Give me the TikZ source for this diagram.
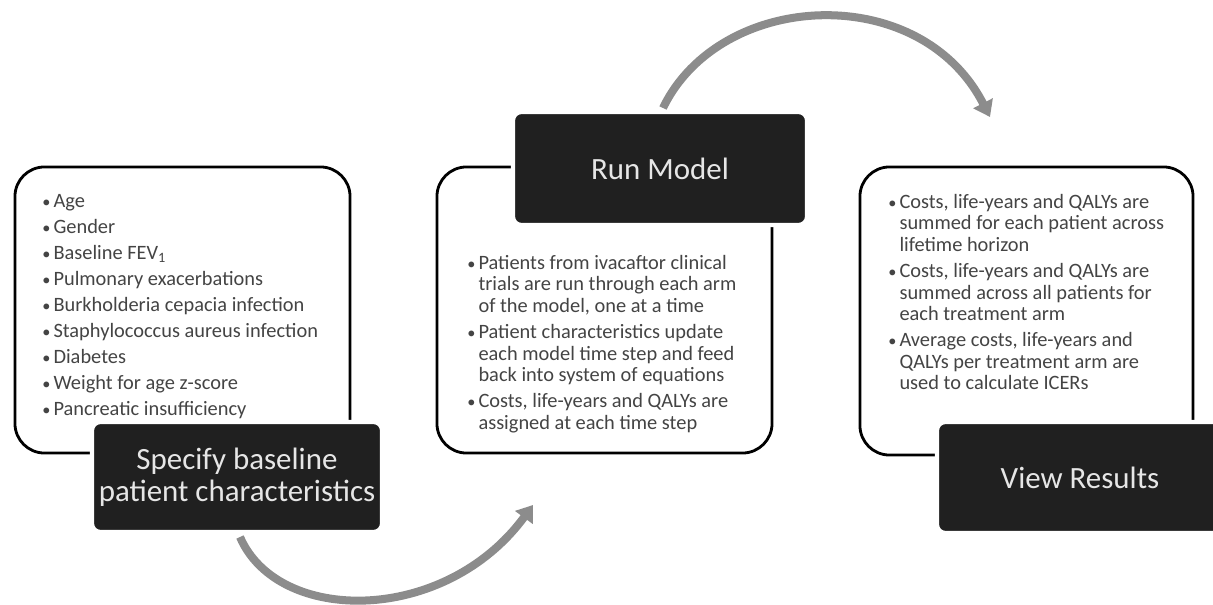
\documentclass[tikz,border=0pt]{standalone}
\usepackage{fontspec}
\setmainfont{Carlito}
\usetikzlibrary{arrows.meta}
\definecolor{boxdark}{HTML}{202020}
\definecolor{boxtext}{HTML}{E6E6E6}
\definecolor{bodytext}{HTML}{444444}
\definecolor{arrowgray}{HTML}{8C8C8C}
\newcommand\bul{\makebox[8pt][l]{\scalebox{0.8}{\textbullet}}}
\newcommand\ind{\hspace*{8pt}}
\tikzset{
  panel/.style={draw=black, fill=white, line width=2pt, rounded corners=21pt,
    inner sep=0pt, outer sep=0pt},
  headbox/.style={draw=white, line width=3pt, fill=boxdark, rounded corners=6pt,
    text=boxtext, align=center, inner sep=0pt, outer sep=0pt,
    font=\fontsize{22}{22.8}\selectfont},
  bodylist/.style={anchor=north west, align=left, inner sep=0pt, text=bodytext,
    font=\fontsize{14.5}{15.3}\selectfont},
  flowarrow/.style={draw=arrowgray, line width=5.7pt,
    -{Triangle[width=15pt,length=11pt]}}
}
\begin{document}
\begin{tikzpicture}[x=0.025cm, y=-0.025cm]
  \useasboundingbox (0,0) rectangle (1213,605);
  \fill[white] (0,0) rectangle (1213,605);
  \clip (0,0) rectangle (1213,605);

  % connecting arrows between the stages
  \coordinate (a1s) at (240,537);
  \coordinate (a1e) at (533,505);
  \coordinate (a2s) at (663,108);
  \coordinate (a2e) at (990,117);
  \draw[flowarrow] (a1s) .. controls (278,625) and (445,625) .. (a1e);
  \draw[flowarrow] (a2s) .. controls (720,-10) and (920,-20) .. (a2e);

  % stage panels
  \node[panel, minimum width=8.375cm, minimum height=7.15cm] (p1) at (182.5,310) {};
  \node[panel, minimum width=8.375cm, minimum height=7.15cm] (p2) at (604.5,310) {};
  \node[panel, minimum width=8.325cm, minimum height=7.2cm] (p3) at (1026.5,311) {};

  % panel contents
  \node[bodylist] (t1) at (42,194) {%
    \bul Age\\[3.2pt]
    \bul Gender\\[3.2pt]
    \bul Baseline FEV\textsubscript{1}\\[3.2pt]
    \bul Pulmonary exacerbations\\[3.2pt]
    \bul Burkholderia cepacia infection\\[3.2pt]
    \bul Staphylococcus aureus infection\\[3.2pt]
    \bul Diabetes\\[3.2pt]
    \bul Weight for age z-score\\[3.2pt]
    \bul Pancreatic insufficiency};
  \node[bodylist] (t2) at (467,255) {%
    \bul Patients from ivacaftor clinical\\
    \ind trials are run through each arm\\
    \ind of the model, one at a time\\[3.2pt]
    \bul Patient characteristics update\\
    \ind each model time step and feed\\
    \ind back into system of equations\\[3.2pt]
    \bul Costs, life-years and QALYs are\\
    \ind assigned at each time step};
  \node[bodylist] (t3) at (888,194) {%
    \bul Costs, life-years and QALYs are\\
    \ind summed for each patient across\\
    \ind lifetime horizon\\[3.2pt]
    \bul Costs, life-years and QALYs are\\
    \ind summed across all patients for\\
    \ind each treatment arm\\[3.2pt]
    \bul Average costs, life-years and\\
    \ind QALYs per treatment arm are\\
    \ind used to calculate ICERs};

  % stage titles
  \node[headbox, minimum width=7.25cm, minimum height=2.75cm] (h1) at (237,477)
    {Specify baseline\\patient characteristics};
  \node[headbox, minimum width=7.35cm, minimum height=2.825cm] (h2) at (660,168.5)
    {Run Model};
  \node[headbox, minimum width=7.15cm, minimum height=2.775cm] (h3) at (1080,477.5)
    {View Results};
\end{tikzpicture}
\end{document}
